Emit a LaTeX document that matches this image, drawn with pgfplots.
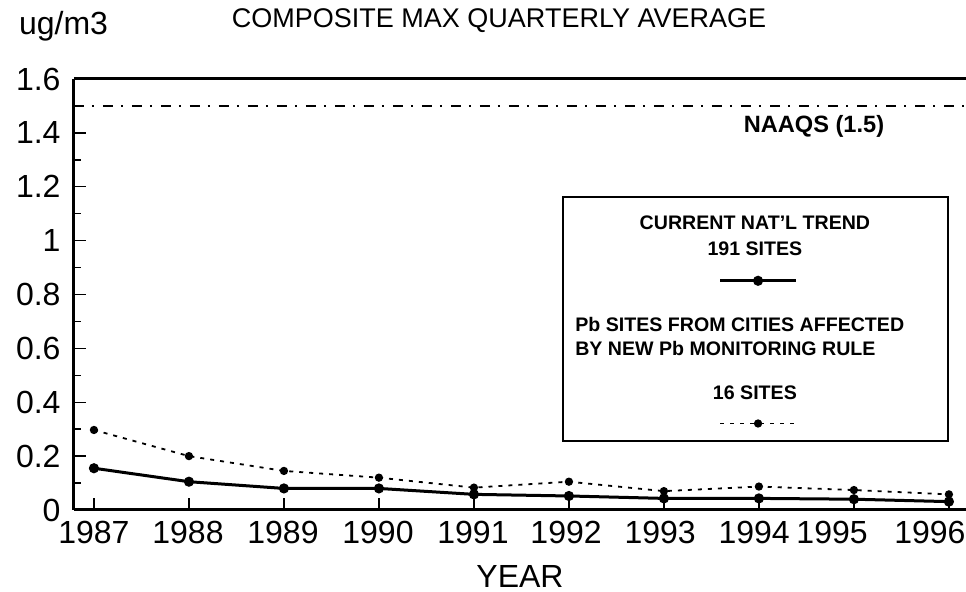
\documentclass[border=0pt]{standalone}
\usepackage{pgfplots}
\pgfplotsset{compat=1.18}
\usepackage{fontspec}
\setmainfont{Liberation Sans}
\begin{document}
\begin{tikzpicture}
\begin{axis}[
  name=ax,
  at={(0pt,0pt)}, anchor=south west,
  scale only axis,
  width=446pt, height=215.5pt,
  xmin=1986.79, xmax=1996.18,
  ymin=0, ymax=1.6,
  axis x line*=bottom, axis y line*=left,
  axis line style={line width=1.5pt, black},
  xtick={1987,1988,1989,1990,1991,1992,1993,1994,1995,1996},
  xticklabels={,,,,,,,,,},
  extra x ticks={1987,1987.99,1988.99,1989.99,1990.99,1991.97,1992.96,1993.95,1994.77,1995.80},
  extra x tick labels={1987,1988,1989,1990,1991,1992,1993,1994,1995,1996},
  extra x tick style={major tick length=0pt},
  ytick={0,0.2,0.4,0.6,0.8,1,1.2,1.4,1.6},
  minor ytick={0.1,0.3,0.5,0.7,0.9,1.1,1.3,1.5},
  major tick length=6pt, minor tick length=3.5pt,
  tick style={line width=0.7pt, black},
  tick align=inside,
  /pgf/number format/assume math mode=true,
  ticklabel style={font=\fontsize{16}{19}\selectfont},
  xticklabel style={yshift=-2pt},
  yticklabel style={xshift=-3.2pt},
  xlabel={YEAR},
  xlabel style={at={(axis description cs:0.5,0)}, anchor=base, yshift=-39pt, font=\fontsize{16}{19}\selectfont},
  ylabel={ug/m3},
  ylabel style={rotate=-90, at={(axis description cs:0,1)}, anchor=base west, xshift=-31pt, yshift=22pt, font=\fontsize{16}{19}\selectfont},
  title={COMPOSITE MAX QUARTERLY AVERAGE},
  title style={at={(axis description cs:0,1)}, anchor=base, inner sep=0pt, xshift=212.5pt, yshift=19.5pt, font=\fontsize{13.5}{16}\selectfont},
  clip=false,
  legend style={at={(axis description cs:0.768,0.3666)}, anchor=center, draw=none, fill=none, row sep=68pt, inner sep=0pt, nodes={inner sep=0pt}},
  legend image code/.code={\draw[mark repeat=2, mark phase=2, #1] plot coordinates {(0pt,0pt) (19pt,0pt) (38pt,0pt)};},
]
\addplot[black, line width=1.5pt, mark=*, mark size=1.75pt] coordinates {
  (1987,0.155) (1988,0.105) (1989,0.080) (1990,0.080) (1991,0.058)
  (1992,0.052) (1993,0.043) (1994,0.043) (1995,0.040) (1996,0.031)};
\addlegendentry{\mbox{}}
\addplot[black, line width=0.9pt, dash pattern=on 2pt off 3pt, mark=*, mark size=1.6pt, mark options={solid}] coordinates {
  (1987,0.297) (1988,0.200) (1989,0.145) (1990,0.120) (1991,0.083)
  (1992,0.105) (1993,0.070) (1994,0.087) (1995,0.074) (1996,0.058)};
\addlegendentry{\mbox{}}
\addplot[black, line width=0.8pt, dash pattern=on 5pt off 4pt on 1pt off 4.5pt, forget plot] coordinates {(1986.79,1.5) (1996.18,1.5)};
\draw[line width=1.5pt] (rel axis cs:0,1) -- (rel axis cs:1,1);
\node[font=\fontsize{11.8}{14}\selectfont\bfseries, anchor=base] at (axis cs:1994.58,1.40) {NAAQS (1.5)};
\draw[line width=1.2pt] (axis cs:1991.937,1.162) rectangle (axis cs:1995.989,0.256);
\node[font=\fontsize{9.8}{12}\selectfont\bfseries, inner sep=0pt] at (axis cs:1993.958,1.065) {CURRENT NAT'L TREND};
\node[font=\fontsize{9.8}{12}\selectfont\bfseries, inner sep=0pt] at (axis cs:1993.958,0.969) {191 SITES};
\node[font=\fontsize{9.8}{12}\selectfont\bfseries, inner sep=0pt, anchor=west] at (axis cs:1992.063,0.690) {Pb SITES FROM CITIES AFFECTED};
\node[font=\fontsize{9.8}{12}\selectfont\bfseries, inner sep=0pt, anchor=west] at (axis cs:1992.063,0.598) {BY NEW Pb MONITORING RULE};
\node[font=\fontsize{9.8}{12}\selectfont\bfseries, inner sep=0pt] at (axis cs:1993.958,0.434) {16 SITES};
\end{axis}
\pgfresetboundingbox
\path[use as bounding box] (-37pt,-41pt) rectangle (446pt,255pt);
\end{tikzpicture}
\end{document}
